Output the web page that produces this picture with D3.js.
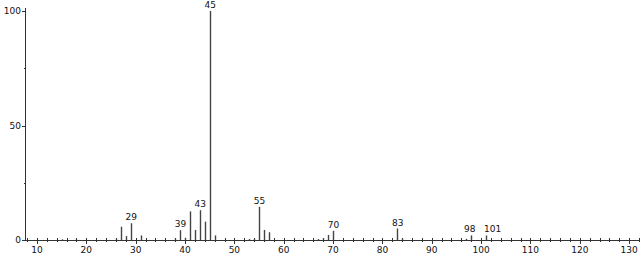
<!DOCTYPE html>
<html>
<head>
<meta charset="utf-8">
<script src="https://cdn.jsdelivr.net/npm/d3@7"></script>
<style>
  body { margin: 0; background: #fff; }
  text { font-family: "DejaVu Sans", sans-serif; font-size: 9px; fill: #111; }
</style>
</head>
<body>
<div id="spectrum"></div>
<script>
// ---- data ----
var mz        = [15, 18, 26, 27, 28, 29, 31, 38, 39, 40, 41, 42, 43, 44, 45, 46, 53, 54, 55, 56, 57, 67, 68, 69, 70, 83, 84, 97, 98, 101];
var intensity = [0.3, 0.3, 0.6, 5.8, 1.7, 7.3, 2.0, 0.6, 4.3, 1.0, 12.5, 4.4, 13.0, 8.0, 100, 2.0, 0.4, 0.5, 14.5, 4.4, 3.4, 0.4, 0.8, 2.2, 4.0, 5.0, 0.6, 0.5, 2.0, 2.0];
var labelled  = [29, 39, 43, 45, 55, 70, 83, 98, 101];
var xTicks    = [10, 20, 30, 40, 50, 60, 70, 80, 90, 100, 110, 120, 130];
var yTicks    = [0, 50, 100];

var peaks = mz.map(function(m, i) { return { mz: m, val: intensity[i] }; });

// ---- layout ----
var svgWidth = 644, svgHeight = 256;

var svg = d3.select('#spectrum')
    .append('svg')
    .attr('width', svgWidth)
    .attr('height', svgHeight);

var x = d3.scaleLinear()
    .domain([7.57, 132.2])
    .range([25, 640]);

var y = d3.scaleLinear()
    .domain([0, 100])
    .range([240, 11]);

// ---- axes ----
var ink = '#333';

// x axis line + ticks
svg.append('line')
    .attr('x1', x.range()[0]).attr('x2', x.range()[1])
    .attr('y1', 240.5).attr('y2', 240.5)
    .attr('stroke', ink);

var minor = d3.range(8, 133, 2);
svg.append('g').selectAll('line')
    .data(minor)
    .enter()
    .append('line')
    .attr('x1', d => Math.round(x(d)) + 0.5)
    .attr('x2', d => Math.round(x(d)) + 0.5)
    .attr('y1', 238)
    .attr('y2', d => d % 10 === 0 ? 244 : 242)
    .attr('stroke', ink);

svg.append('g').selectAll('text')
    .data(xTicks)
    .enter()
    .append('text')
    .attr('x', d => x(d))
    .attr('y', 253)
    .attr('text-anchor', 'middle')
    .text(d => d);

// y axis line + ticks
svg.append('line')
    .attr('x1', 25.5).attr('x2', 25.5)
    .attr('y1', y(100) - 3).attr('y2', 240.5)
    .attr('stroke', ink);

svg.append('g').selectAll('line')
    .data([0, 25, 50, 75, 100])
    .enter()
    .append('line')
    .attr('x1', d => d % 50 === 0 ? 22 : 24)
    .attr('x2', 25)
    .attr('y1', d => Math.round(y(d)) + 0.5)
    .attr('y2', d => Math.round(y(d)) + 0.5)
    .attr('stroke', ink);

svg.append('g').selectAll('text')
    .data(yTicks)
    .enter()
    .append('text')
    .attr('x', 21)
    .attr('y', d => y(d) + 3)
    .attr('text-anchor', 'end')
    .text(d => d);

// ---- peaks ----
svg.append('g').selectAll('line')
    .data(peaks)
    .enter()
    .append('line')
    .attr('x1', d => Math.round(x(d.mz)) + 0.5)
    .attr('x2', d => Math.round(x(d.mz)) + 0.5)
    .attr('y1', y(0))
    .attr('y2', d => y(d.val))
    .attr('stroke', '#444')
    .attr('stroke-width', 1.4);

// 98 and 101 sit close together, so nudge them apart like the original
svg.append('g').selectAll('text')
    .data(peaks.filter(d => labelled.indexOf(d.mz) >= 0))
    .enter()
    .append('text')
    .attr('x', d => x(d.mz) + (d.mz === 98 ? -1.5 : d.mz === 101 ? -2 : 0.5))
    .attr('y', d => y(d.val) - 3)
    .attr('text-anchor', d => d.mz === 101 ? 'start' : 'middle')
    .text(d => d.mz);
</script>
</body>
</html>
